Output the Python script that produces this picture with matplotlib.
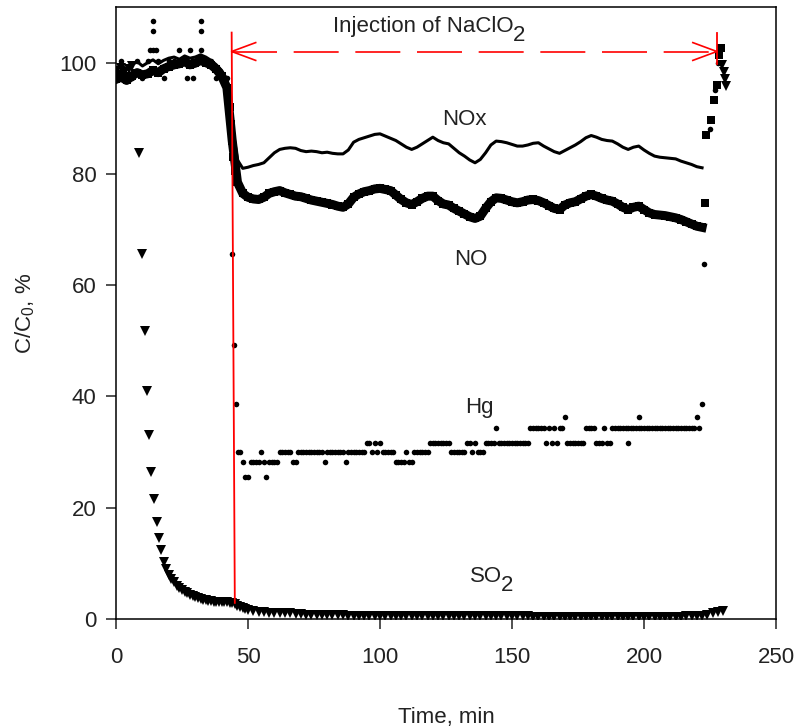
import numpy as np
import matplotlib
matplotlib.use("Agg")
import matplotlib.pyplot as plt

plt.rcParams['font.family'] = ['Liberation Sans', 'DejaVu Sans']
plt.rcParams['mathtext.fontset'] = 'custom'
plt.rcParams['mathtext.rm'] = 'Liberation Sans'
plt.rcParams['mathtext.it'] = 'Liberation Sans:italic'

# ---- data ----
# common 2-min grid for NO and NOx
t2 = np.arange(0, 224, 2)

no_y = [97.0, 97.4, 96.8, 97.6, 98.2, 97.8, 98.0, 98.6, 98.2, 98.9, 99.3,
        99.6, 99.8, 100.2, 99.6, 99.9, 100.4, 100.0, 99.6, 98.8, 97.6, 95.5,
        86.0, 78.5, 76.5, 75.8, 75.5, 75.4, 75.8, 76.5, 76.8, 77.0,
        76.6, 76.3, 76.0, 75.9, 75.6, 75.3, 75.1, 74.9, 74.7, 74.5,
        74.2, 74.0, 74.6, 75.8, 76.4, 76.8, 77.0, 77.3, 77.4, 77.2,
        77.0, 76.2, 75.4, 74.8, 74.5, 75.0, 75.6, 76.0, 76.0, 75.2,
        74.6, 74.4, 73.8, 73.3, 72.8, 72.3, 72.0, 72.4, 73.8, 75.0,
        75.7, 75.6, 75.3, 75.0, 74.8, 75.0, 75.3, 75.4, 75.2, 74.8,
        74.3, 73.8, 73.6, 74.4, 74.8, 75.0, 75.5, 76.0, 76.3, 76.0,
        75.6, 75.3, 75.1, 74.6, 74.0, 73.6, 74.0, 74.2, 73.6, 73.0,
        72.7, 72.6, 72.5, 72.3, 72.1, 71.8, 71.4, 71.0, 70.6, 70.4]
no_extra_t = [43, 43.5, 44.5, 45, 45.5, 223, 223.6, 225.4, 226.5, 227.6, 228.4, 229]
no_extra_y = [92.0, 89.0, 83.0, 80.5, 79.0, 74.8, 87.0, 89.7, 93.3, 96.0, 101.4, 102.7]

nox_y = [99.0, 99.5, 98.8, 99.6, 100.2, 99.4, 100.0, 100.5, 99.8, 100.4, 100.8,
         101.0, 100.6, 101.2, 100.8, 101.0, 101.4, 101.0, 100.4, 99.6, 98.6, 97.0,
         89.0, 82.5, 81.0, 81.2, 81.5, 81.7, 82.0, 82.9, 83.8, 84.4,
         84.6, 84.7, 84.6, 84.2, 84.0, 84.1, 84.0, 83.8, 83.9, 83.7,
         83.6, 83.6, 84.3, 85.7, 86.2, 86.5, 86.8, 87.1, 87.2, 86.8,
         86.4, 86.0, 85.4, 84.8, 84.4, 84.8, 85.4, 86.0, 86.6, 86.0,
         85.6, 85.4, 84.6, 83.8, 83.2, 82.5, 82.0, 82.6, 83.8, 85.2,
         85.9, 85.8, 85.6, 85.3, 85.0, 85.0, 85.2, 85.5, 85.6, 85.0,
         84.5, 84.0, 83.7, 84.2, 84.7, 85.2, 85.8, 86.5, 86.9, 86.6,
         86.2, 86.0, 85.9, 85.4, 84.8, 84.4, 84.8, 85.0, 84.3, 83.7,
         83.2, 83.0, 82.9, 82.8, 82.7, 82.3, 82.0, 81.7, 81.3, 81.1]

# Hg: before injection (2-min grid 0..42), after injection (1-min grid 47..222)
hg_pre_t = np.arange(0, 44, 2)
hg_pre_y = [97.3, 100.3, 97.3, 97.3, 100.3, 97.3, 100.3, 102.2, 100.3, 97.3, 100.3,
            100.3, 102.2, 100.3, 102.2, 100.3, 102.2, 100.3, 100.3, 97.3, 97.3, 97.3]
hg_t = np.arange(47, 223)
hg_y = [30.1, 28.3, 25.6, 25.6, 28.3, 28.3, 28.3, 28.3, 30.1, 28.3,
        25.6, 28.3, 28.3, 28.3, 28.3, 30.1, 30.1, 30.1, 30.1, 30.1,
        28.3, 28.3, 30.1, 30.1, 30.1, 30.1, 30.1, 30.1, 30.1, 30.1,
        30.1, 30.1, 28.3, 30.1, 30.1, 30.1, 30.1, 30.1, 30.1, 30.1,
        28.3, 30.1, 30.1, 30.1, 30.1, 30.1, 30.1, 30.1, 31.7, 31.7,
        30.1, 31.7, 30.1, 31.7, 30.1, 30.1, 30.1, 30.1, 30.1, 28.3,
        28.3, 28.3, 28.3, 30.1, 28.3, 28.3, 30.1, 30.1, 30.1, 30.1,
        30.1, 30.1, 31.7, 31.7, 31.7, 31.7, 31.7, 31.7, 31.7, 31.7,
        30.1, 30.1, 30.1, 30.1, 30.1, 30.1, 31.7, 31.7, 30.1, 31.7,
        30.1, 30.1, 30.1, 31.7, 31.7, 31.7, 31.7, 34.3, 31.7, 31.7,
        31.7, 31.7, 31.7, 31.7, 31.7, 31.7, 31.7, 31.7, 31.7, 31.7,
        34.3, 34.3, 34.3, 34.3, 34.3, 34.3, 31.7, 34.3, 31.7, 34.3,
        31.7, 34.3, 34.3, 36.3, 31.7, 31.7, 31.7, 31.7, 31.7, 31.7,
        31.7, 34.3, 34.3, 34.3, 34.3, 31.7, 31.7, 31.7, 34.3, 31.7,
        31.7, 34.3, 34.3, 34.3, 34.3, 34.3, 34.3, 34.3, 34.3, 34.3,
        34.3, 34.3, 34.3, 34.3, 34.3, 34.3, 34.3, 34.3, 34.3, 34.3,
        34.3, 34.3, 34.3, 34.3, 34.3, 34.3, 34.3, 34.3, 34.3, 34.3,
        34.3, 34.3, 34.3, 36.3, 34.3, 38.7]
hg_extra_t = [13, 14, 14, 15, 27, 29, 32, 32, 44, 44.7, 45.5, 46.3,
              194, 198, 222.7, 225, 227, 228]
hg_extra_y = [102.2, 107.4, 105.6, 102.2, 97.3, 97.3, 107.4, 105.6, 65.6, 49.3,
              38.7, 30.1, 31.7, 36.3, 63.8, 88.0, 95.0, 100.0]

# SO2: dense early part, then 2-min grid
so2_t_early = [0, 1, 2, 3, 4, 5, 6, 7, 8.7, 9.7, 10.8, 11.7, 12.6, 13.4, 14.4,
               15.4, 16.3, 17.2, 18.1] + list(range(19, 51))
so2_y_early = [98.5, 97.8, 99.0, 98.2, 97.5, 98.8, 99.4, 98.0,
               83.8, 65.6, 51.8, 41.0, 33.1, 26.5, 21.6, 17.5, 14.6, 12.4, 10.3,
               9.0, 8.0, 7.2, 6.6, 6.0, 5.6, 5.2, 4.9, 4.6, 4.3, 4.1, 3.9, 3.7,
               3.6, 3.5, 3.4, 3.3, 3.2, 3.1, 3.1, 3.1, 3.1, 3.0, 3.0, 2.9, 2.9,
               2.7, 2.4, 2.2, 2.0, 1.8, 1.6]
so2_t_late = np.arange(52, 232, 2)
so2_y_late = [1.4, 1.3, 1.2, 1.1, 1.1, 1.0, 1.0, 1.0, 0.9, 0.9,
              0.8, 0.8, 0.8, 0.7, 0.7, 0.7, 0.7, 0.7, 0.6, 0.6,
              0.6, 0.6, 0.6, 0.6, 0.5, 0.5, 0.5, 0.5, 0.5, 0.5,
              0.5, 0.5, 0.5, 0.5, 0.5, 0.5, 0.5, 0.5, 0.5, 0.5,
              0.5, 0.5, 0.5, 0.5, 0.5, 0.5, 0.5, 0.5, 0.5, 0.5,
              0.5, 0.5, 0.5, 0.4, 0.4, 0.4, 0.4, 0.4, 0.4, 0.4,
              0.4, 0.4, 0.4, 0.4, 0.4, 0.4, 0.4, 0.4, 0.4, 0.4,
              0.4, 0.4, 0.4, 0.4, 0.4, 0.4, 0.4, 0.4, 0.4, 0.4,
              0.4, 0.4, 0.5, 0.5, 0.5, 0.6, 0.8, 1.0, 1.2, 1.4]
so2_extra_t = [229.6, 230.2, 230.8, 231.2]
so2_extra_y = [99.6, 98.4, 97.0, 95.8]

fig = plt.figure(figsize=(7.98, 7.28), dpi=100)
ax = fig.add_axes([0.1454, 0.1497, 0.827, 0.8407])

# SO2 triangles
for tt, yy in [(so2_t_early, so2_y_early), (so2_t_late, so2_y_late),
               (so2_extra_t, so2_extra_y)]:
    ax.plot(tt, yy, 'v', color='black', ms=7.5, mew=0)

# NO - thick band of squares
ax.plot(t2, no_y, '-', color='black', lw=6.5, solid_joinstyle='round')
ax.plot(t2, no_y, 's', color='black', ms=6, mew=0)
ax.plot(no_extra_t, no_extra_y, 's', color='black', ms=6, mew=0)

# NOx - thin trace
ax.plot(t2, nox_y, '-', color='black', lw=2.2)

# Hg - small dots
for tt, yy in [(hg_pre_t, hg_pre_y), (hg_t, hg_y), (hg_extra_t, hg_extra_y)]:
    ax.plot(tt, yy, 'o', color='black', ms=4, mew=0)

# injection annotation (red)
ax.plot([43.8, 45.0], [105.4, 2.9], color='red', lw=1.3)
ax.plot([227.6, 227.6], [105.4, 99.8], color='red', lw=1.3)
ax.plot([43.8, 227.6], [102.0, 102.0], color='red', lw=1.2, dashes=(27, 10))
ax.plot([52.9, 43.8, 52.9], [103.6, 102.0, 100.4], color='red', lw=1.2)
ax.plot([218.5, 227.6, 218.5], [103.6, 102.0, 100.4], color='red', lw=1.2)

fs = 16
tc = '#222222'
ax.text(150.8, 106.5, 'Injection of NaClO', ha='right', va='center', fontsize=fs, color=tc)
ax.text(150.4, 104.8, '2', ha='left', va='center', fontsize=fs, color=tc)
ax.text(132, 89.7, 'NOx', ha='center', va='center', fontsize=fs, color=tc)
ax.text(134.5, 64.7, 'NO', ha='center', va='center', fontsize=fs, color=tc)
ax.text(137.5, 38.0, 'Hg', ha='center', va='center', fontsize=fs, color=tc)
ax.text(146.2, 7.7, 'SO', ha='right', va='center', fontsize=fs, color=tc)
ax.text(145.8, 6.0, '2', ha='left', va='center', fontsize=fs, color=tc)

ax.set_xlim(0, 250)
ax.set_ylim(0, 110)
ax.set_xticks([0, 50, 100, 150, 200, 250])
ax.set_yticks([0, 20, 40, 60, 80, 100])
ax.tick_params(direction='out', length=7, width=1.1, top=False, right=False,
               labelsize=fs, colors=tc)
ax.tick_params(axis='x', pad=13)
ax.tick_params(axis='y', pad=7)
for sp in ax.spines.values():
    sp.set_linewidth(1.1)
ax.set_xlabel('Time, min', fontsize=fs, labelpad=28, color=tc)
ax.set_ylabel('C/C$_0$, %', fontsize=fs, labelpad=16, color=tc)

fig.savefig('out.png', dpi=100)
